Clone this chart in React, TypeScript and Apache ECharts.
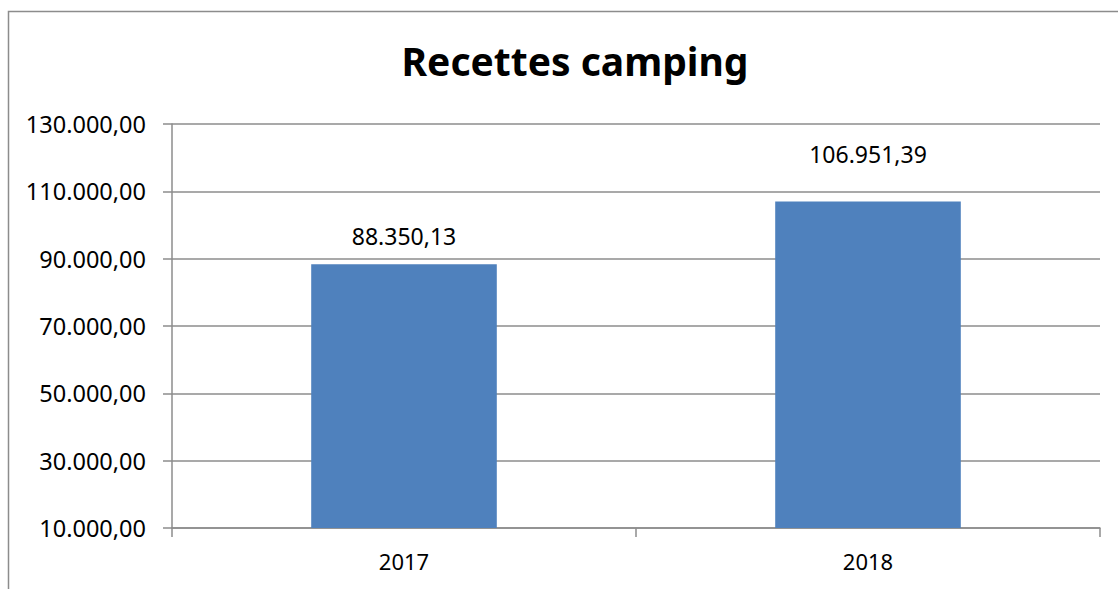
import React, { useEffect, useRef } from "react";
import * as echarts from "echarts";

const categories = ["2017", "2018"];
const recettes = [88350.13, 106951.39];
const axisBase = 10000;
const axisTop = 130000;
const axisStep = 20000;
const labelGaps = [17, 36];

function fmt(v: number): string {
  const fixed = Math.abs(v).toFixed(2);
  const [intPart, dec] = fixed.split(".");
  const withDots = intPart.replace(/\B(?=(\d{3})+(?!\d))/g, ".");
  return (v < 0 ? "-" : "") + withDots + "," + dec;
}

export default function App() {
  const ref = useRef<HTMLDivElement>(null);
  useEffect(() => {
    document.body.style.margin = "0";
    const chart = echarts.init(ref.current!, undefined, { renderer: "svg" });
    const font = "'Noto Sans', sans-serif";
    chart.setOption({
      animation: false,
      backgroundColor: "#ffffff",
      title: {
        text: "Recettes camping",
        left: 570,
        top: 36,
        textAlign: "center",
        textStyle: { fontFamily: font, fontSize: 39, fontWeight: "bold", color: "#000" },
      },
      graphic: [
        {
          type: "rect",
          shape: { x: 8.5, y: 11.5, width: 1200, height: 700 },
          style: { fill: "none", stroke: "#8c8c8c", lineWidth: 1.5 },
          silent: true,
        },
      ],
      grid: { left: 172, right: 18, top: 124, bottom: 61 },
      xAxis: {
        type: "category",
        data: categories,
        axisLine: { show: true, lineStyle: { color: "#8c8c8c", width: 1.5 } },
        axisTick: { show: true, length: 9, lineStyle: { color: "#8c8c8c", width: 1.5 } },
        axisLabel: { margin: 22, fontFamily: font, fontSize: 22, color: "#000" },
        splitLine: { show: false },
      },
      yAxis: {
        type: "value",
        min: 0,
        max: axisTop - axisBase,
        interval: axisStep,
        axisLine: { show: true, lineStyle: { color: "#8c8c8c", width: 1.5 } },
        axisTick: { show: true, length: 9, lineStyle: { color: "#8c8c8c", width: 1.5 } },
        axisLabel: {
          margin: 26,
          fontFamily: font,
          fontSize: 23.5,
          color: "#000",
          formatter: (v: number) => fmt(v + axisBase),
        },
        splitLine: { show: true, lineStyle: { color: "#8c8c8c", width: 1.5 } },
      },
      series: [
        {
          type: "bar",
          data: recettes.map((v, i) => ({
            value: v - axisBase,
            label: { distance: labelGaps[i] },
          })),
          barWidth: "40%",
          itemStyle: { color: "#4f81bd" },
          label: {
            show: true,
            position: "top",
            fontFamily: font,
            fontSize: 23,
            color: "#000",
            formatter: (p: any) => fmt(recettes[p.dataIndex]),
          },
        },
      ],
    });
    return () => chart.dispose();
  }, []);
  return <div ref={ref} style={{ width: 1118, height: 589 }} />;
}
